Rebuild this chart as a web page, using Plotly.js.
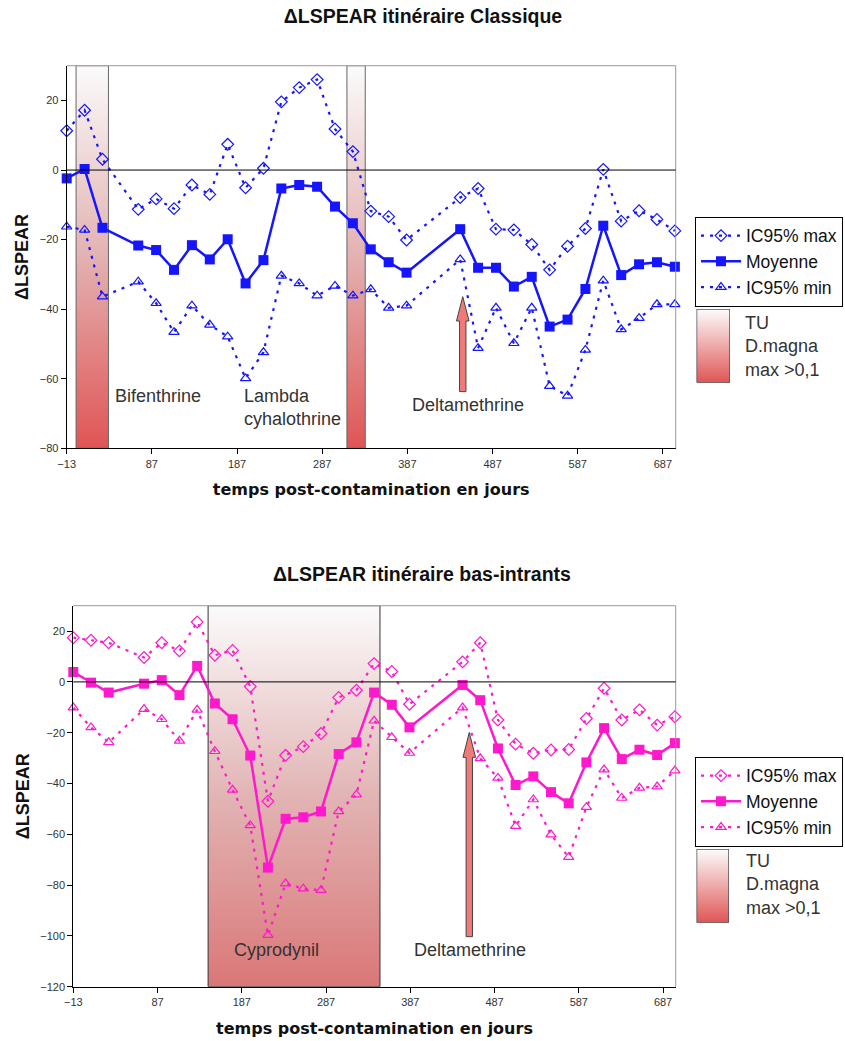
<!DOCTYPE html>
<html>
<head>
<meta charset="utf-8">
<script src="https://cdn.plot.ly/plotly-3.0.1.min.js"></script>
<style>html,body{margin:0;padding:0;background:#fff}#chart{width:845px;height:1041px}</style>
</head>
<body>
<div id="chart"></div>
<script>
// ---- data ----
const days = [-13, 8, 29, 71, 92, 113, 134, 155, 176, 197, 218, 239, 260, 281, 302, 323, 344, 365, 386, 449, 470, 491, 512, 533, 554, 575, 596, 617, 638, 659, 680, 701];

const classMax  = [11.3, 17.2, 3.1, -11.3, -8.3, -11.1, -4.3, -7.0, 7.4, -5.1, 0.5, 19.6, 23.7, 26.0, 11.8, 5.3, -11.8, -13.4, -20.1, -7.9, -5.3, -17.0, -17.2, -21.4, -28.7, -21.9, -16.8, 0.2, -14.7, -11.7, -14.2, -17.5];
const classMean = [-2.4, 0.3, -16.6, -21.7, -23.0, -28.7, -21.6, -25.7, -19.9, -32.6, -25.9, -5.3, -4.3, -4.8, -10.5, -15.3, -22.8, -26.5, -29.5, -17.0, -28.1, -28.1, -33.5, -30.7, -45.0, -43.0, -34.2, -16.0, -30.2, -27.1, -26.5, -27.8];
const classMin  = [-16.3, -17.2, -36.4, -32.1, -38.3, -46.6, -39.0, -44.5, -47.9, -59.9, -52.4, -30.4, -32.6, -36.1, -33.3, -36.1, -34.3, -39.6, -39.0, -25.7, -51.2, -39.6, -49.8, -39.6, -62.1, -64.9, -51.7, -31.8, -45.8, -42.6, -38.6, -38.6];

const bioMax  = [17.4, 16.4, 15.4, 9.6, 15.4, 12.2, 23.6, 10.5, 12.4, -1.8, -47.0, -28.9, -25.5, -20.3, -6.1, -3.3, 7.2, 4.1, -8.8, 7.9, 15.4, -15.0, -24.5, -28.1, -26.8, -26.6, -14.4, -2.5, -15.0, -11.0, -17.0, -13.7];
const bioMean = [3.9, -0.3, -4.2, -0.7, 0.7, -5.2, 6.3, -8.5, -14.7, -29.0, -73.1, -53.9, -53.3, -51.0, -28.4, -23.8, -4.2, -9.0, -17.9, -1.2, -7.2, -26.2, -40.6, -37.2, -43.4, -47.8, -31.7, -18.2, -30.4, -26.7, -28.8, -24.1];
const bioMin  = [-10.1, -17.9, -23.8, -10.7, -14.7, -23.2, -11.0, -27.3, -42.5, -56.5, -99.7, -79.4, -81.4, -82.0, -51.0, -44.4, -15.3, -21.8, -28.0, -10.1, -30.1, -37.8, -56.8, -46.3, -60.1, -69.0, -49.3, -34.5, -45.7, -41.7, -41.2, -34.9];

// contamination periods (TU D.magna max > 0,1)
const classPeriodStart = [-2, 316];
const classPeriodEnd   = [36, 337.5];
const bioPeriodStart = [147];
const bioPeriodEnd   = [351];

// Deltamethrine arrows
const classArrowDay = 452, classArrowTail = -63.7, classArrowTip = -36.4;
const bioArrowDay = 457, bioArrowTail = -100.3, bioArrowTip = -19.9;

const seriesNames = ['IC95% max', 'Moyenne', 'IC95% min'];
const xTitle = 'temps post-contamination en jours';
const yTitle = '\u0394LSPEAR';
const titleTop = '\u0394LSPEAR itinéraire Classique';
const titleBottom = '\u0394LSPEAR itinéraire bas-intrants';
const tuText = 'TU<br>D.magna<br>max >0,1';

const classRange = [-80, 30];
const bioRange = [-120, 30];
const xRange = [-13, 702];

// ---- helpers ----
const W = 845, H = 1041;
const fx = p => p / W;
const fy = p => 1 - p / H;
const BLUE = '#1515ff', PINK = '#ff19cc';
const FONT = 'Liberation Sans, Arial, sans-serif';

function periodTraces(starts, ends, yr, xa, ya, scale, edge) {
  return starts.map((s, i) => ({
    type: 'scatter', mode: 'lines',
    x: [s, ends[i], ends[i], s, s], y: [yr[0], yr[0], yr[1], yr[1], yr[0]],
    fill: 'toself',
    fillgradient: {type: 'vertical', colorscale: scale},
    fillcolor: scale[0][1],
    line: {color: edge, width: 1},
    xaxis: xa, yaxis: ya, showlegend: false, hoverinfo: 'skip'
  }));
}

function seriesTraces(maxs, means, mins, color, xa, ya, leg) {
  const dash = '3px,6px';
  return [
    {type: 'scatter', mode: 'lines+markers', name: seriesNames[0], x: days, y: maxs,
     line: {color: color, width: 2.2, dash: dash},
     marker: {symbol: 'diamond-open', size: 9, color: color, line: {width: 1.2, color: color}},
     xaxis: xa, yaxis: ya, legend: leg, cliponaxis: false},
    {type: 'scatter', mode: 'lines+markers', name: seriesNames[1], x: days, y: means,
     line: {color: color, width: 2.5},
     marker: {symbol: 'square', size: 10, color: color},
     xaxis: xa, yaxis: ya, legend: leg, cliponaxis: false},
    {type: 'scatter', mode: 'lines+markers', name: seriesNames[2], x: days, y: mins,
     line: {color: color, width: 2.2, dash: dash},
     marker: {symbol: 'triangle-up-open', size: 9, color: color, line: {width: 1.2, color: color}},
     xaxis: xa, yaxis: ya, legend: leg, cliponaxis: false}
  ];
}

const classScale = [[0, '#e05555'], [0.5, '#e3b1b1'], [1, '#fbfbfb']];
const bioScale = [[0, '#da7777'], [0.5, '#e2b4b4'], [1, '#fbfbfb']];
const swatchScale = [[0, '#e05555'], [1, '#fdfdfd']];

function swatchTrace(xa, ya) {
  return {type: 'scatter', mode: 'lines', x: [0, 1, 1, 0, 0], y: [0, 0, 1, 1, 0],
    fill: 'toself', fillgradient: {type: 'vertical', colorscale: swatchScale},
    fillcolor: '#e88', line: {color: '#555', width: 1.5},
    xaxis: xa, yaxis: ya, showlegend: false, hoverinfo: 'skip'};
}

function arrowShape(day, tail, tip, headLen, xref, yref) {
  const sw = 3.2, hw = 6.3, base = tip - headLen;
  return {type: 'path', xref: xref, yref: yref, xsizemode: 'pixel', xanchor: day,
    path: `M ${-sw},${tail} L ${sw},${tail} L ${sw},${base} L ${hw},${base} L 0,${tip} L ${-hw},${base} L ${-sw},${base} Z`,
    fillcolor: '#f07a7a', line: {color: '#444', width: 1}, layer: 'above'};
}

const traces = [
  ...periodTraces(classPeriodStart, classPeriodEnd, classRange, 'x', 'y', classScale, '#666'),
  ...seriesTraces(classMax, classMean, classMin, BLUE, 'x', 'y', 'legend'),
  ...periodTraces(bioPeriodStart, bioPeriodEnd, bioRange, 'x2', 'y2', bioScale, '#333'),
  ...seriesTraces(bioMax, bioMean, bioMin, PINK, 'x2', 'y2', 'legend2'),
  swatchTrace('x3', 'y3'),
  swatchTrace('x4', 'y4')
];

function xAxis(domain, anchor) {
  return {domain: domain, anchor: anchor, range: xRange, tick0: -13, dtick: 100,
    ticks: 'outside', ticklen: 5, tickcolor: '#000', showline: true, linecolor: '#000', linewidth: 1,
    showgrid: false, zeroline: false, tickfont: {family: FONT, size: 11, color: '#333'},
    title: {text: xTitle, standoff: 15, font: {family: 'DejaVu Sans, sans-serif', size: 16, weight: 'bold', color: '#111'}},
    automargin: false, fixedrange: true};
}
function yAxis(domain, anchor, range) {
  return {domain: domain, anchor: anchor, range: range, dtick: 20,
    ticks: 'outside', ticklen: 5, tickcolor: '#000', showline: true, linecolor: '#000', linewidth: 1,
    showgrid: false, zeroline: false, tickfont: {family: FONT, size: 11, color: '#333'},
    title: {text: yTitle, standoff: 6, font: {family: FONT, size: 18, weight: 'bold', color: '#111'}},
    automargin: false, fixedrange: true};
}
const hidden = d => ({domain: d, range: [0, 1], visible: false, fixedrange: true});

function frameShapes(xd, yd) {
  return [
    {type: 'line', xref: xd, yref: yd, x0: 0, x1: 1, y0: 1, y1: 1, line: {color: '#999', width: 1}, layer: 'above'},
    {type: 'line', xref: xd, yref: yd, x0: 1, x1: 1, y0: 0, y1: 1, line: {color: '#999', width: 1}, layer: 'above'}
  ];
}

const labelFont = {family: FONT, size: 18, color: '#333'};
const legendCfg = (yTop) => ({x: fx(695), y: fy(yTop), xanchor: 'left', yanchor: 'top',
  bordercolor: '#000', borderwidth: 1, bgcolor: '#fff', font: {family: FONT, size: 17.5, color: '#111'},
  itemwidth: 40, tracegroupgap: 0, traceorder: 'normal'});

const layout = {
  width: W, height: H, margin: {l: 0, r: 0, t: 0, b: 0},
  paper_bgcolor: '#fff', plot_bgcolor: 'rgba(0,0,0,0)', showlegend: true,
  title: {text: titleTop, x: fx(423), xanchor: 'center', xref: 'paper', y: fy(16), yanchor: 'middle', yref: 'paper',
    font: {family: FONT, size: 19.5, weight: 'bold', color: '#111'}},
  xaxis: xAxis([fx(66.7), fx(675.7)], 'y'),
  yaxis: yAxis([fy(448.3), fy(65.7)], 'x', classRange),
  xaxis2: xAxis([fx(73.3), fx(675.7)], 'y2'),
  yaxis2: yAxis([fy(986.7), fy(605.7)], 'x2', bioRange),
  xaxis3: Object.assign(hidden([fx(696.5), fx(730)]), {anchor: 'y3'}),
  yaxis3: Object.assign(hidden([fy(382.7), fy(309)]), {anchor: 'x3'}),
  xaxis4: Object.assign(hidden([fx(696.5), fx(729)]), {anchor: 'y4'}),
  yaxis4: Object.assign(hidden([fy(922.7), fy(849)]), {anchor: 'x4'}),
  legend: legendCfg(216.7),
  legend2: legendCfg(756.7),
  shapes: [
    ...frameShapes('x domain', 'y domain'),
    ...frameShapes('x2 domain', 'y2 domain'),
    {type: 'line', xref: 'x domain', yref: 'y', x0: 0, x1: 1, y0: 0, y1: 0, line: {color: '#000', width: 1}, layer: 'above'},
    {type: 'line', xref: 'x2 domain', yref: 'y2', x0: 0, x1: 1, y0: 0, y1: 0, line: {color: '#000', width: 1}, layer: 'above'},
    arrowShape(classArrowDay, classArrowTail, classArrowTip, 7, 'x', 'y'),
    arrowShape(bioArrowDay, bioArrowTail, bioArrowTip, 9.8, 'x2', 'y2')
  ],
  annotations: [
    {text: titleBottom, xref: 'paper', yref: 'paper', x: fx(422), y: fy(574), xanchor: 'center', yanchor: 'middle',
     showarrow: false, font: {family: FONT, size: 19.5, weight: 'bold', color: '#111'}},
    {text: 'Bifenthrine', xref: 'x', yref: 'y', x: 41, y: -65, xanchor: 'left', yanchor: 'middle', showarrow: false, font: labelFont},
    {text: 'Lambda<br>cyhalothrine', xref: 'x', yref: 'y', x: 193, y: -68.4, xanchor: 'left', yanchor: 'middle', align: 'left', showarrow: false, font: labelFont},
    {text: 'Deltamethrine', xref: 'x', yref: 'y', x: 390, y: -67.5, xanchor: 'left', yanchor: 'middle', showarrow: false, font: labelFont},
    {text: 'Cyprodynil', xref: 'x2', yref: 'y2', x: 175, y: -105.6, xanchor: 'left', yanchor: 'middle', showarrow: false, font: labelFont},
    {text: 'Deltamethrine', xref: 'x2', yref: 'y2', x: 389, y: -105.6, xanchor: 'left', yanchor: 'middle', showarrow: false, font: labelFont},
    {text: tuText, xref: 'paper', yref: 'paper', x: fx(743), y: fy(346), xanchor: 'left', yanchor: 'middle', align: 'left', showarrow: false, font: labelFont},
    {text: tuText, xref: 'paper', yref: 'paper', x: fx(744), y: fy(884), xanchor: 'left', yanchor: 'middle', align: 'left', showarrow: false, font: labelFont}
  ]
};

Plotly.newPlot('chart', traces, layout, {staticPlot: true, displayModeBar: false});
</script>
</body>
</html>
